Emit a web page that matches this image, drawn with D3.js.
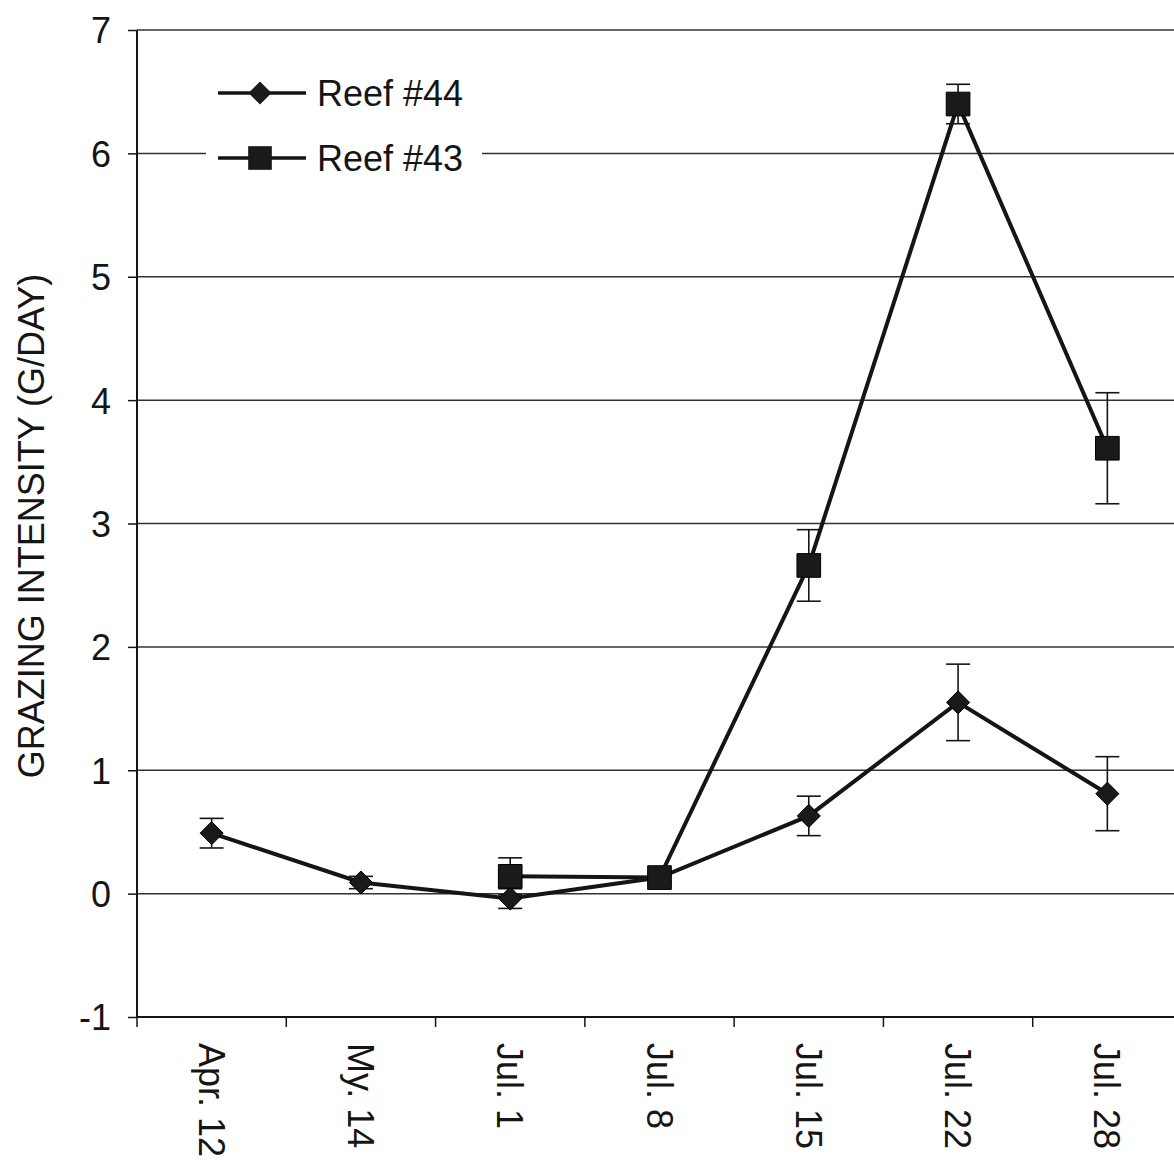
<!DOCTYPE html>
<html>
<head>
<meta charset="utf-8">
<script src="https://cdn.jsdelivr.net/npm/d3@7"></script>
<style>
  html, body { margin: 0; padding: 0; background: #fff; }
  svg { display: block; font-family: "Liberation Sans", Arial, sans-serif; }
</style>
</head>
<body>
<div id="chart"></div>
<script>
// chart data
const dates = ["Apr. 12", "My. 14", "Jul. 1", "Jul. 8", "Jul. 15", "Jul. 22", "Jul. 28"];
const reef44 = [0.49, 0.09, -0.04, 0.13, 0.63, 1.55, 0.81];
const reef44Err = [0.12, 0.05, 0.08, 0.03, 0.16, 0.31, 0.30];
const reef43 = [null, null, 0.14, 0.13, 2.66, 6.40, 3.61];
const reef43Err = [null, null, 0.15, 0.03, 0.29, 0.16, 0.45];
const yTicks = [-1, 0, 1, 2, 3, 4, 5, 6, 7];

const width = 1174;
const height = 1164;
const ink = '#151515';

const svg = d3.select('#chart')
  .append('svg')
  .attr('width', width)
  .attr('height', height);

const x = d3.scaleBand().domain(dates).range([137, 1182]).padding(0);
const y = d3.scaleLinear().domain([-1, 7]).range([1017, 30]);
const cx = d => x(d) + x.bandwidth() / 2;

// gridlines
svg.append('g')
  .selectAll('line')
  .data(yTicks)
  .enter().append('line')
  .attr('x1', 137).attr('x2', width)
  .attr('y1', d => y(d)).attr('y2', d => y(d))
  .attr('stroke', '#333')
  .attr('stroke-width', 1.5);

// y axis
const yAxis = svg.append('g')
  .attr('transform', 'translate(137,0)')
  .call(d3.axisLeft(y).tickValues(yTicks).tickSize(9).tickPadding(17).tickFormat(d => String(d)));
yAxis.select('.domain').remove();
yAxis.selectAll('line').attr('stroke', ink).attr('stroke-width', 1.5);
yAxis.selectAll('text')
  .style('font-size', '36px')
  .attr('fill', ink)
  .attr('dy', '0.36em');

svg.append('line')
  .attr('x1', 137).attr('x2', 137)
  .attr('y1', y(7)).attr('y2', y(-1))
  .attr('stroke', ink).attr('stroke-width', 2);

// x axis line, ticks at band edges
svg.append('line')
  .attr('x1', 137).attr('x2', width)
  .attr('y1', y(-1)).attr('y2', y(-1))
  .attr('stroke', ink).attr('stroke-width', 2);

svg.append('g')
  .selectAll('line')
  .data(dates)
  .enter().append('line')
  .attr('x1', d => x(d)).attr('x2', d => x(d))
  .attr('y1', y(-1)).attr('y2', y(-1) + 10)
  .attr('stroke', ink).attr('stroke-width', 1.5);

svg.append('g')
  .selectAll('text')
  .data(dates)
  .enter().append('text')
  .attr('transform', d => `translate(${cx(d)},1043) rotate(90)`)
  .attr('dy', '0.36em')
  .attr('text-anchor', 'start')
  .style('font-size', '36px')
  .attr('fill', ink)
  .text(d => d);

// y axis title
svg.append('text')
  .attr('transform', 'translate(44,526) rotate(-90)')
  .attr('text-anchor', 'middle')
  .style('font-size', '36px')
  .attr('fill', ink)
  .text('GRAZING INTENSITY (G/DAY)');

// series
const series = [
  { name: 'Reef #44', values: reef44, errs: reef44Err, shape: d3.symbolDiamond2 },
  { name: 'Reef #43', values: reef43, errs: reef43Err, shape: d3.symbolSquare }
];

const line = d3.line()
  .defined(d => d.v !== null)
  .x(d => cx(d.date))
  .y(d => y(d.v));

series.forEach(s => {
  const pts = dates.map((date, i) => ({ date, v: s.values[i], e: s.errs[i] }));
  const valid = pts.filter(p => p.v !== null);

  const eb = svg.append('g').attr('stroke', ink).attr('stroke-width', 1.6);
  valid.forEach(p => {
    const px = cx(p.date);
    eb.append('line').attr('x1', px).attr('x2', px).attr('y1', y(p.v + p.e)).attr('y2', y(p.v - p.e));
    eb.append('line').attr('x1', px - 12).attr('x2', px + 12).attr('y1', y(p.v + p.e)).attr('y2', y(p.v + p.e));
    eb.append('line').attr('x1', px - 12).attr('x2', px + 12).attr('y1', y(p.v - p.e)).attr('y2', y(p.v - p.e));
  });

  svg.append('path')
    .datum(pts)
    .attr('d', line)
    .attr('fill', 'none')
    .attr('stroke', ink)
    .attr('stroke-width', 4);
});

series.forEach(s => {
  const pts = dates.map((date, i) => ({ date, v: s.values[i] })).filter(p => p.v !== null);
  const size = s.shape === d3.symbolSquare ? 560 : 340;
  svg.append('g')
    .selectAll('path')
    .data(pts)
    .enter().append('path')
    .attr('transform', d => `translate(${cx(d.date)},${y(d.v)})`)
    .attr('d', d3.symbol().type(s.shape).size(size))
    .attr('fill', '#1a1a1a')
    .attr('stroke', '#000')
    .attr('stroke-width', 1);
});

// legend
const legend = svg.append('g').attr('class', 'legend');
legend.append('rect')
  .attr('x', 206).attr('y', 62)
  .attr('width', 276).attr('height', 126)
  .attr('fill', '#fff');

series.forEach((s, i) => {
  const row = legend.append('g').attr('transform', `translate(0, ${93 + i * 65})`);
  row.append('line')
    .attr('x1', 218).attr('x2', 306)
    .attr('stroke', ink).attr('stroke-width', 3.5);
  row.append('path')
    .attr('transform', 'translate(260,0)')
    .attr('d', d3.symbol().type(s.shape).size(s.shape === d3.symbolSquare ? 560 : 340))
    .attr('fill', '#1a1a1a');
  row.append('text')
    .attr('x', 317).attr('y', 0)
    .attr('dy', '0.36em')
    .style('font-size', '36px')
    .attr('fill', ink)
    .text(s.name);
});
</script>
</body>
</html>
